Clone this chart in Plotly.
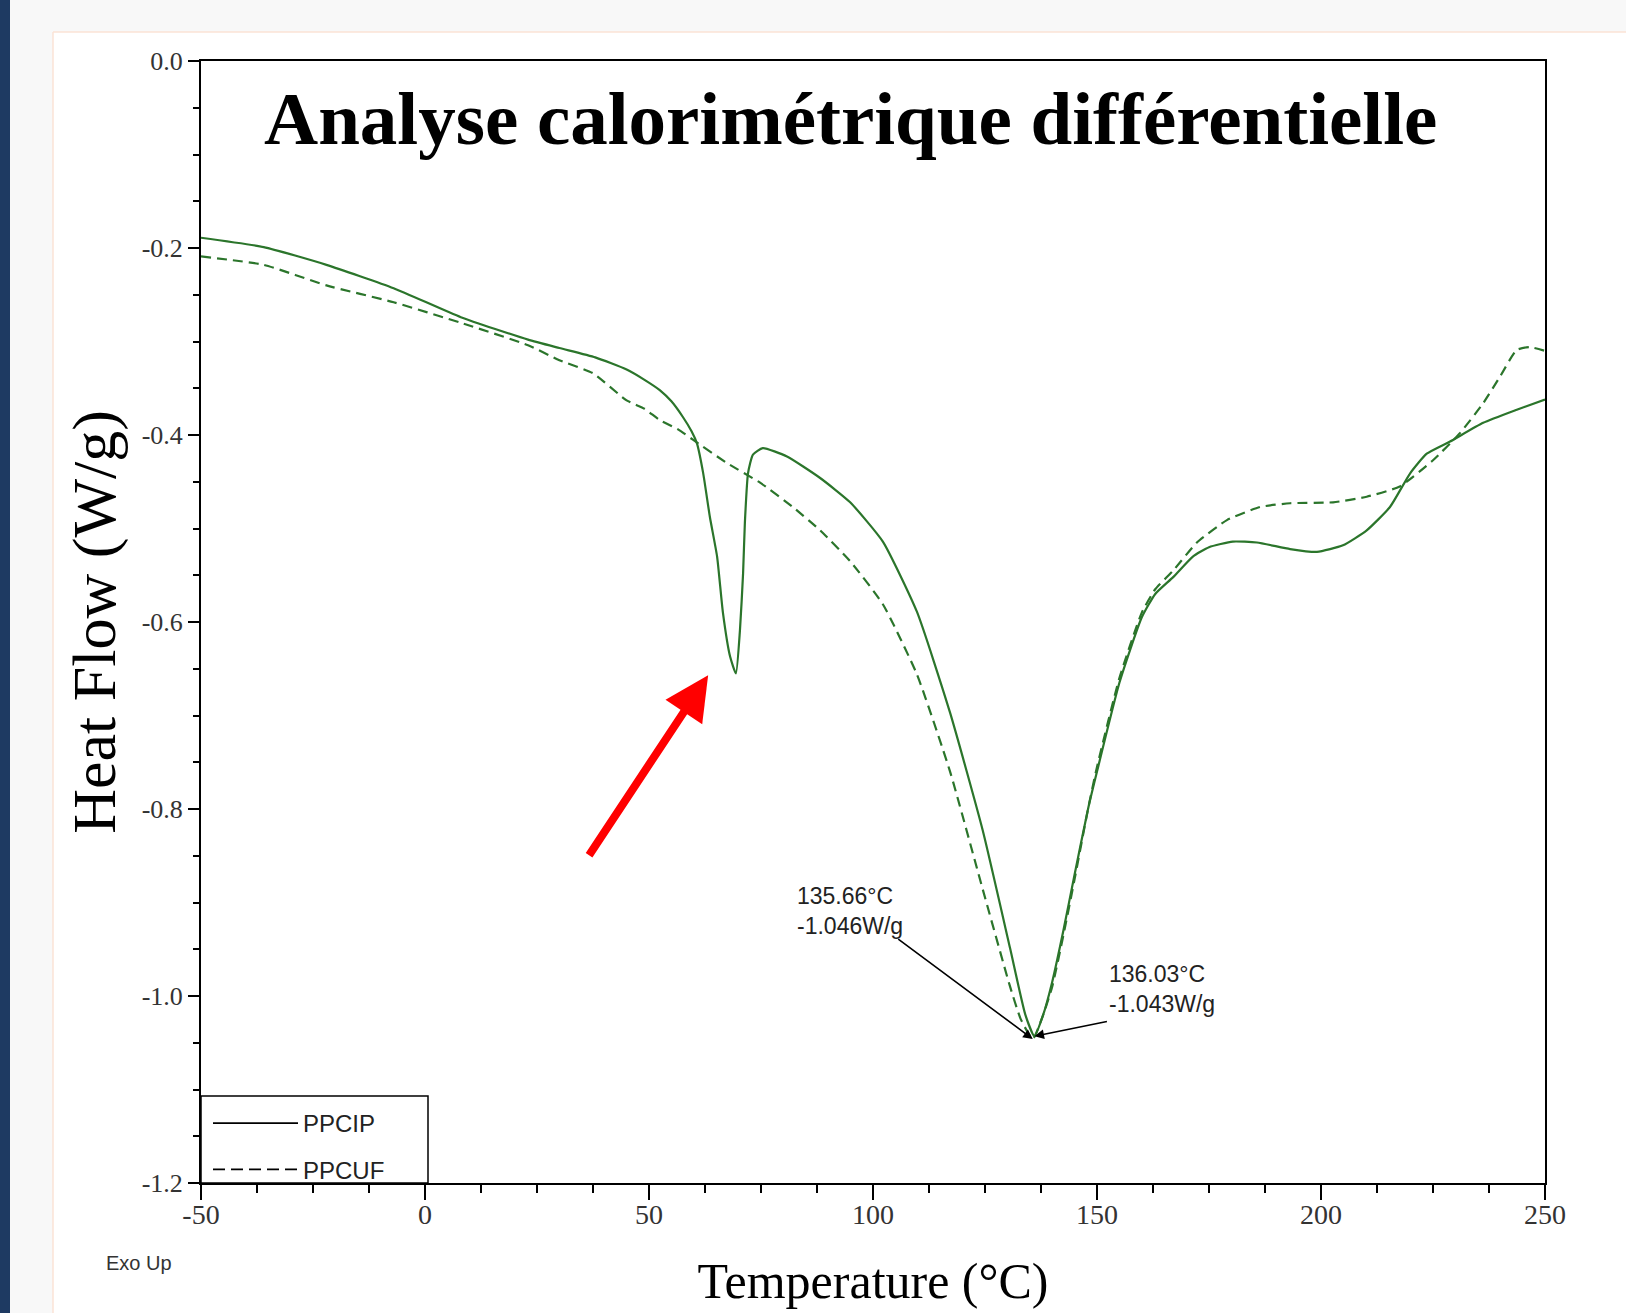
import plotly.graph_objects as go

# ---------------- data ----------------
temp_ppcip = [-50, -36, -22, -7, 8, 23, 30, 38, 45, 49, 52.4, 55, 57.6, 59.5, 60.7, 62.1, 63.6,
              65.2, 66.5, 68.1, 69.4, 70.3, 71.0, 71.4, 72.1, 73.2, 75.4, 80.8, 88.2, 94.9,
              102.2, 109.8, 117.2, 124.5, 130.6, 134, 136.03, 138, 140, 142.5, 145, 148, 150,
              155, 160, 163, 167, 171.4, 175, 180.3, 185.7, 193.1, 199.1, 204.9, 210.2, 215.4,
              219.9, 223.6, 228.8, 236.2, 243.7, 250]
hf_ppcip = [-0.189, -0.199, -0.218, -0.243, -0.274, -0.298, -0.307, -0.317, -0.330, -0.341,
            -0.352, -0.364, -0.381, -0.396, -0.409, -0.441, -0.488, -0.530, -0.590, -0.637,
            -0.655, -0.609, -0.548, -0.494, -0.441, -0.421, -0.414, -0.423, -0.446, -0.472,
            -0.514, -0.589, -0.697, -0.823, -0.949, -1.020, -1.043, -1.020, -0.985, -0.930,
            -0.870, -0.800, -0.760, -0.665, -0.595, -0.570, -0.552, -0.530, -0.520, -0.514,
            -0.515, -0.522, -0.525, -0.518, -0.502, -0.477, -0.441, -0.420, -0.407, -0.387,
            -0.373, -0.362]

temp_ppcuf = [-50, -36, -22, -7, 8, 23, 30, 37.5, 45, 49, 52.4, 56.5, 59.8, 67.4, 74.8, 82.1,
              88.2, 94.9, 102.2, 109.8, 117.2, 124.5, 130.6, 133, 135.66, 138, 140, 142.5, 145,
              148, 150, 155, 160, 163, 167, 172.3, 179, 186.4, 193.1, 202.7, 210.2, 217.6, 225,
              231, 236.2, 239.9, 243.7, 246.6, 250]
hf_ppcuf = [-0.209, -0.218, -0.240, -0.258, -0.280, -0.304, -0.320, -0.334, -0.363, -0.372,
            -0.384, -0.394, -0.405, -0.430, -0.451, -0.477, -0.502, -0.535, -0.581, -0.656,
            -0.760, -0.886, -0.990, -1.025, -1.046, -1.020, -0.990, -0.935, -0.875, -0.800,
            -0.755, -0.660, -0.590, -0.565, -0.545, -0.515, -0.491, -0.477, -0.473, -0.472,
            -0.466, -0.455, -0.427, -0.398, -0.366, -0.338, -0.309, -0.306, -0.310]

series_names = ["PPCIP", "PPCUF"]

x_tickvals = [-50, 0, 50, 100, 150, 200, 250]
x_ticktext = ["-50", "0", "50", "100", "150", "200", "250"]
y_tickvals = [0.0, -0.2, -0.4, -0.6, -0.8, -1.0, -1.2]
y_ticktext = ["0.0", "-0.2", "-0.4", "-0.6", "-0.8", "-1.0", "-1.2"]

peak_ppcuf = (135.66, -1.046)
peak_ppcip = (136.03, -1.043)
label_ppcuf = "135.66°C<br>-1.046W/g"
label_ppcip = "136.03°C<br>-1.043W/g"

# ---------------- figure ----------------
W, H = 1626, 1313
ML, MR, MT, MB = 201, 81, 61, 130
PW, PH = W - ML - MR, H - MT - MB


def px2paper(X, Y):
    return (X - ML) / PW, (H - MB - Y) / PH


GREEN = "#2b752b"
SERIF = "Liberation Serif, Times New Roman, serif"
SANS = "Liberation Sans, Arial, sans-serif"

fig = go.Figure()
fig.add_trace(go.Scatter(x=temp_ppcip, y=hf_ppcip, mode="lines", showlegend=False,
                         line=dict(color=GREEN, width=2.2, shape="spline", smoothing=0.5)))
fig.add_trace(go.Scatter(x=temp_ppcuf, y=hf_ppcuf, mode="lines", showlegend=False,
                         line=dict(color=GREEN, width=2.2, dash="10px,6px", shape="spline",
                                   smoothing=0.5)))
# legend entries (black, like the instrument legend)
fig.add_trace(go.Scatter(x=[None], y=[None], mode="lines", name=series_names[0],
                         legendgroup="a", line=dict(color="black", width=1.8)))
fig.add_trace(go.Scatter(x=[None], y=[None], mode="lines", name=series_names[1],
                         legendgroup="b", line=dict(color="black", width=1.8, dash="12px,6px")))

# decorations: page background strips and navy bar
x0, y0 = px2paper(0, 0)
x1, y1 = px2paper(W, 32)
xs, _ = px2paper(53, 0)
xb, yb = px2paper(10, H)
lgx0, lgy0 = px2paper(201, 1183)
lgx1, lgy1 = px2paper(428, 1096)
shapes = [
    dict(type="rect", xref="paper", yref="paper", x0=x0, x1=x1, y0=y1, y1=y0,
         fillcolor="#f8f8f8", line=dict(width=0), layer="below"),
    dict(type="rect", xref="paper", yref="paper", x0=x0, x1=xs, y0=yb, y1=y0,
         fillcolor="#f8f8f8", line=dict(width=0), layer="below"),
    dict(type="line", xref="paper", yref="paper", x0=xs, x1=x1, y0=y1, y1=y1,
         line=dict(color="#fbe3d6", width=1.5), layer="below"),
    dict(type="line", xref="paper", yref="paper", x0=xs, x1=xs, y0=y1, y1=yb,
         line=dict(color="#fbe3d6", width=1.5), layer="below"),
    dict(type="rect", xref="paper", yref="paper", x0=x0, x1=xb, y0=yb, y1=y0,
         fillcolor="#1e3a62", line=dict(width=0), layer="below"),
    # legend frame
    dict(type="rect", xref="paper", yref="paper", x0=lgx0, x1=lgx1, y0=lgy0, y1=lgy1,
         line=dict(color="black", width=1.5), layer="above"),
]

tx, ty = px2paper(850, 119)
ex, ey = px2paper(104, 1263)
lx, ly = px2paper(208, 1101)
annotations = [
    dict(text="<b>Analyse calorimétrique différentielle</b>", xref="paper", yref="paper",
         x=tx, y=ty, xanchor="center", yanchor="middle", showarrow=False,
         font=dict(family=SERIF, size=75, color="black")),
    dict(text="Exo Up", xref="paper", yref="paper", x=ex, y=ey, xanchor="left",
         yanchor="middle", showarrow=False, font=dict(family=SANS, size=20, color="#333")),
    # peak labels
    dict(text=label_ppcuf, x=peak_ppcuf[0], y=peak_ppcuf[1], xref="x", yref="y",
         showarrow=False, xanchor="left", yanchor="top", align="left",
         xshift=795 - 1033, yshift=1039 - 881,
         font=dict(family=SANS, size=23, color="#222")),
    dict(text=label_ppcip, x=peak_ppcip[0], y=peak_ppcip[1], xref="x", yref="y",
         showarrow=False, xanchor="left", yanchor="top", align="left",
         xshift=1107 - 1034, yshift=1036 - 959,
         font=dict(family=SANS, size=23, color="#222")),
    # peak arrows
    dict(text="", x=peak_ppcuf[0], y=peak_ppcuf[1], xref="x", yref="y", showarrow=True,
         ax=-136, ay=-101, arrowhead=2, arrowsize=1.2, arrowwidth=1.6, arrowcolor="black"),
    dict(text="", x=peak_ppcip[0], y=peak_ppcip[1], xref="x", yref="y", showarrow=True,
         ax=74, ay=-15, arrowhead=2, arrowsize=1.2, arrowwidth=1.6, arrowcolor="black"),
    # red arrow pointing at the cold-crystallisation peak
    dict(text="", x=63.2, y=-0.657, xref="x", yref="y", axref="x", ayref="y",
         ax=36.4, ay=-0.851, showarrow=True, arrowhead=2, arrowsize=1.1, arrowwidth=8,
         arrowcolor="#ff0000"),
]

fig.update_layout(
    width=W, height=H,
    margin=dict(l=ML, r=MR, t=MT, b=MB, autoexpand=False),
    paper_bgcolor="white", plot_bgcolor="white",
    shapes=shapes, annotations=annotations,
    legend=dict(x=lx, y=ly, xanchor="left", yanchor="top", bgcolor="rgba(0,0,0,0)",
                borderwidth=0, itemwidth=85,
                font=dict(family=SANS, size=24, color="#222"), tracegroupgap=12),
    xaxis=dict(range=[-50, 250], tickmode="array", tickvals=x_tickvals, ticktext=x_ticktext,
               ticks="outside", ticklen=15, tickwidth=2, tickcolor="black",
               ticklabelstandoff=-10,
               showline=True, linecolor="black", linewidth=2, mirror=True,
               showgrid=False, zeroline=False,
               minor=dict(tick0=-50, dtick=12.5, ticks="outside", ticklen=8, tickwidth=1.5,
                          tickcolor="black", showgrid=False),
               tickfont=dict(family=SERIF, size=28, color="#333"),
               title=dict(text="Temperature (°C)", standoff=34,
                          font=dict(family=SERIF, size=50, color="black"))),
    yaxis=dict(range=[-1.2, 0], tickmode="array", tickvals=y_tickvals, ticktext=y_ticktext,
               ticks="outside", ticklen=11, tickwidth=2, tickcolor="black",
               showline=True, linecolor="black", linewidth=2, mirror=True,
               showgrid=False, zeroline=False,
               minor=dict(tick0=0, dtick=0.05, ticks="outside", ticklen=6, tickwidth=1.5,
                          tickcolor="black", showgrid=False),
               tickfont=dict(family=SERIF, size=26, color="#333"),
               title=dict(text="Heat Flow (W/g)", standoff=6,
                          font=dict(family=SERIF, size=62, color="black"))),
)

fig.write_html("out.html")
